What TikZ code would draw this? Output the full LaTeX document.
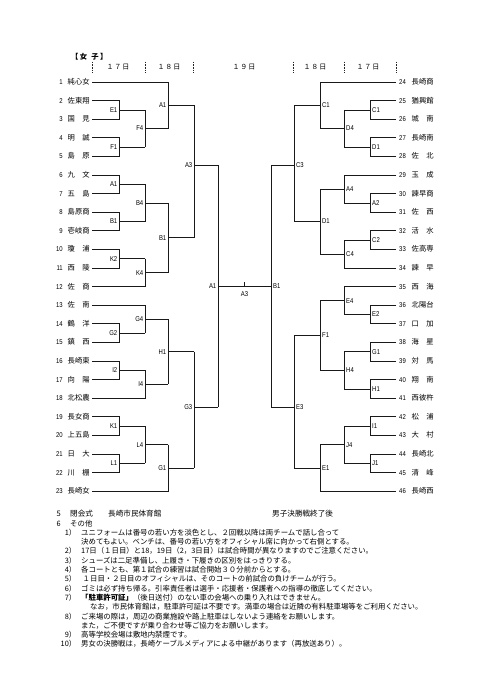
\documentclass[tikz,border=0pt]{standalone}
\usepackage{fontspec}
\setmainfont{Noto Sans CJK JP}
\newfontfamily\labfont[FakeStretch=0.85]{Liberation Sans}
\usetikzlibrary{calc}

\tikzset{
  br/.style={draw=black!90, line width=0.8pt},
  lab/.style={font=\labfont\fontsize{7}{8}\selectfont, inner sep=0pt, text height=5.2pt, text depth=0.3pt},
  team/.style={font=\fontsize{7.3}{8}\selectfont, inner sep=0pt, text height=5.2pt, text depth=0.3pt},
  txt/.style={font=\fontsize{7.4}{8}\selectfont, inner sep=0pt, anchor=base west},
  txtn/.style={font=\fontsize{7.4}{8}\selectfont, inner sep=0pt, anchor=base east},
  hd/.style={font=\fontsize{7}{8}\selectfont, inner sep=0pt, anchor=base},
  daymk/.style={draw=black!85, line width=0.6pt, dash pattern=on 1.6pt off 1.1pt},
  lside/.style={anchor=east, xshift=-1.5pt},
  rside/.style={anchor=west, xshift=2pt},
  side/.style={lside}
}
\newcommand\Yrow[1]{(82+(#1-1)*18.6)}
% \match[frac]{top}{bottom}{xguide}{xout}{name}{label}
\newcommand\match[7][.5]{%
  \draw[br] (#2) -- (#2 -| #4) -- (#3 -| #4) -- (#3);
  \coordinate (#6v) at ($(#2 -| #4)!#1!(#3 -| #4)$);
  \draw[br] (#6v) -- (#6v -| #5) coordinate (#6);
  \node[lab, side] (#6l) at (#6v) {#7};
}

\begin{document}
\begin{tikzpicture}[x=1pt,y=-1pt]
\fill[white] (0,0) rectangle (481,680);
\useasboundingbox (0,0) rectangle (481,680);

% header
\node[font=\bfseries\fontsize{7.3}{8}\selectfont, inner sep=0pt, anchor=base west] (title) at (71,59.7) {【\hspace{1.5pt}女\hspace{4pt}子\hspace{1.5pt}】};
\node[hd] (d1) at (118,69.7) {１\hspace{1pt}７\hspace{1pt}日};
\node[hd] (d2) at (169,69.7) {１\hspace{1pt}８\hspace{1pt}日};
\node[hd] (d3) at (244,69.7) {１\hspace{1pt}９\hspace{1pt}日};
\node[hd] (d4) at (315,69.7) {１\hspace{1pt}８\hspace{1pt}日};
\node[hd] (d5) at (368,69.7) {１\hspace{1pt}７\hspace{1pt}日};
\foreach \xx in {92,145,193,293,344,396}
  \draw[daymk] (\xx,61.5) -- (\xx,72.5);

% guides
\coordinate (xa) at (119,0);
\coordinate (xb) at (145,0);
\coordinate (xc) at (168,0);
\coordinate (xd) at (194,0);
\coordinate (xe) at (218,0);
\coordinate (ra) at (370,0);
\coordinate (rb) at (344,0);
\coordinate (rc) at (320,0);
\coordinate (rd) at (294,0);
\coordinate (re) at (271,0);

% left teams
\foreach \i/\nm in {1/純心女, 2/佐東翔, 3/国　見, 4/明　誠, 5/島　原, 6/九　文,
  7/五　島, 8/島原商, 9/壱岐商, 10/瓊　浦, 11/西　陵, 12/佐　商, 13/佐　南,
  14/鶴　洋, 15/鎮　西, 16/長崎東, 17/向　陽, 18/北松農, 19/長女商, 20/上五島,
  21/日　大, 22/川　棚, 23/長崎女} {
  \node[lab, anchor=east] (n\i) at (63,{\Yrow{\i}}) {\i};
  \node[team, anchor=west] (t\i) at (67.5,{\Yrow{\i}}) {\nm};
  \coordinate (L\i) at (92,{\Yrow{\i}});
}
% right teams
\foreach \j/\nm in {24/長崎商, 25/猶興館, 26/城　南, 27/長崎南, 28/佐　北, 29/玉　成,
  30/諫早商, 31/佐　西, 32/活　水, 33/佐高専, 34/諫　早, 35/西　海, 36/北陽台,
  37/口　加, 38/海　星, 39/対　馬, 40/翔　南, 41/西彼杵, 42/松　浦, 43/大　村,
  44/長崎北, 45/清　峰, 46/長崎西} {
  \node[lab, anchor=west] (n\j) at (399,{82+(\j-24)*18.6}) {\j};
  \node[team, anchor=west] (t\j) at (411.5,{82+(\j-24)*18.6}) {\nm};
  \coordinate (R\j) at (396,{82+(\j-24)*18.6});
}

% left bracket
\match{L2}{L3}{xa}{xb}{lE1}{E1}
\match{L4}{L5}{xa}{xb}{lF1}{F1}
\match{lE1}{lF1}{xb}{xc}{lF4}{F4}
\match{L1}{lF4}{xc}{xd}{lA1}{A1}
\match{L6}{L7}{xa}{xb}{lA1b}{A1}
\match{L8}{L9}{xa}{xb}{lB1b}{B1}
\match{lA1b}{lB1b}{xb}{xc}{lB4}{B4}
\match{L10}{L11}{xa}{xb}{lK2}{K2}
\match{lK2}{L12}{xb}{xc}{lK4}{K4}
\match{lB4}{lK4}{xc}{xd}{lB1}{B1}
\match[.451]{lA1}{lB1}{xd}{xe}{lA3}{A3}
\match{L14}{L15}{xa}{xb}{lG2}{G2}
\match{L13}{lG2}{xb}{xc}{lG4}{G4}
\match{L16}{L17}{xa}{xb}{lI2}{I2}
\match{lI2}{L18}{xb}{xc}{lI4}{I4}
\match{lG4}{lI4}{xc}{xd}{lH1}{H1}
\match{L19}{L20}{xa}{xb}{lK1}{K1}
\match{L21}{L22}{xa}{xb}{lL1}{L1}
\match{lK1}{lL1}{xb}{xc}{lL4}{L4}
\match{lL4}{L23}{xc}{xd}{lG1}{G1}
\match[.4755]{lH1}{lG1}{xd}{xe}{lG3}{G3}
% centre
\match{lA3}{lG3}{xe}{re}{cA1}{A1}

% right bracket
\tikzset{side/.style={rside}}
\match{R25}{R26}{ra}{rb}{rC1b}{C1}
\match{R27}{R28}{ra}{rb}{rD1b}{D1}
\match{rC1b}{rD1b}{rb}{rc}{rD4}{D4}
\match{R24}{rD4}{rc}{rd}{rC1}{C1}
\match{R30}{R31}{ra}{rb}{rA2}{A2}
\match{R29}{rA2}{rb}{rc}{rA4}{A4}
\match{R32}{R33}{ra}{rb}{rC2}{C2}
\match{rC2}{R34}{rb}{rc}{rC4}{C4}
\match{rA4}{rC4}{rc}{rd}{rD1}{D1}
\match[.514]{rC1}{rD1}{rd}{re}{rC3}{C3}
\match{R36}{R37}{ra}{rb}{rE2}{E2}
\match{R35}{rE2}{rb}{rc}{rE4}{E4}
\match{R38}{R39}{ra}{rb}{rG1}{G1}
\match{R40}{R41}{ra}{rb}{rH1}{H1}
\match{rG1}{rH1}{rb}{rc}{rH4}{H4}
\match{rE4}{rH4}{rc}{rd}{rF1}{F1}
\match{R42}{R43}{ra}{rb}{rI1}{I1}
\match{R44}{R45}{ra}{rb}{rJ1}{J1}
\match{rI1}{rJ1}{rb}{rc}{rJ4}{J4}
\match{rJ4}{R46}{rc}{rd}{rE1}{E1}
\match[.540]{rF1}{rE1}{rd}{re}{rE3}{E3}
\draw[br] (rC3) -- (rE3);
\coordinate (rB1v) at ($(rC3)!.5!(rE3)$);
\node[lab, rside] (rB1l) at (rB1v) {B1};

% centre tick and label
\coordinate (tick) at ($(cA1v)!.5!(cA1)$);
\draw[br] (tick) -- ++(0,-4);
\node[lab, anchor=north] (cA3l) at ($(tick)+(0,5)$) {A3};

% notes
\node[txt, font=\fontsize{7.6}{8}\selectfont] (s5n) at (56.5,516.7) {5};
\node[txt, font=\fontsize{7.6}{8}\selectfont] (s5a) at (70,516.7) {閉会式};
\node[txt, font=\fontsize{7.6}{8}\selectfont] (s5b) at (108,516.7) {長崎市民体育館};
\node[txt, font=\fontsize{7.6}{8}\selectfont] (s5c) at (272,516.7) {男子決勝戦終了後};
\node[txt] (s6n) at (56.5,526) {6};
\node[txt] (s6a) at (70,526) {その他};

\node[txtn] (k1) at (76.5,535.3) {1）};
\node[txt] (k1a) at (81,535.3) {ユニフォームは番号の若い方を淡色とし、２回戦以降は両チームで話し合って};
\node[txt] (k1b) at (81,544.6) {決めてもよい。ベンチは、番号の若い方をオフィシャル席に向かって右側とする。};
\node[txtn] (k2) at (76.5,553.9) {2）};
\node[txt] (k2a) at (81,553.9) {17日（１日目）と18，19日（2，3日目）は試合時間が異なりますのでご注意ください。};
\node[txtn] (k3) at (76.5,563.2) {3）};
\node[txt] (k3a) at (81,563.2) {シューズは二足準備し、上履き・下履きの区別をはっきりする。};
\node[txtn] (k4) at (76.5,572.5) {4）};
\node[txt] (k4a) at (81,572.5) {各コートとも、第１試合の練習は試合開始３０分前からとする。};
\node[txtn] (k5) at (76.5,581.8) {5）};
\node[txt] (k5a) at (82.5,581.8) {１日目・２日目のオフィシャルは、そのコートの前試合の負けチームが行う。};
\node[txtn] (k6) at (76.5,591.1) {6）};
\node[txt] (k6a) at (81,591.1) {ゴミは必ず持ち帰る。引率責任者は選手・応援者・保護者への指導の徹底してください。};
\node[txtn] (k7) at (76.5,600.4) {7）};
\node[txt] (k7a) at (81,600.4) {\textbf{「駐車許可証」}（後日送付）のない車の会場への乗り入れはできません。};
\node[txt] (k7b) at (90,609.7) {なお，市民体育館は，駐車許可証は不要です。満車の場合は近隣の有料駐車場等をご利用ください。};
\node[txtn] (k8) at (76.5,619) {8）};
\node[txt] (k8a) at (81,619) {ご来場の際は，周辺の商業施設や路上駐車はしないよう連絡をお願いします。};
\node[txt] (k8b) at (81,628.3) {また，ご不便ですが乗り合わせ等ご協力をお願いします。};
\node[txtn] (k9) at (76.5,637.6) {9）};
\node[txt] (k9a) at (81,637.6) {高等学校会場は敷地内禁煙です。};
\node[txtn] (k10) at (76.5,646.9) {10）};
\node[txt] (k10a) at (81,646.9) {男女の決勝戦は，長崎ケーブルメディアによる中継があります（再放送あり）。};
\end{tikzpicture}
\end{document}
